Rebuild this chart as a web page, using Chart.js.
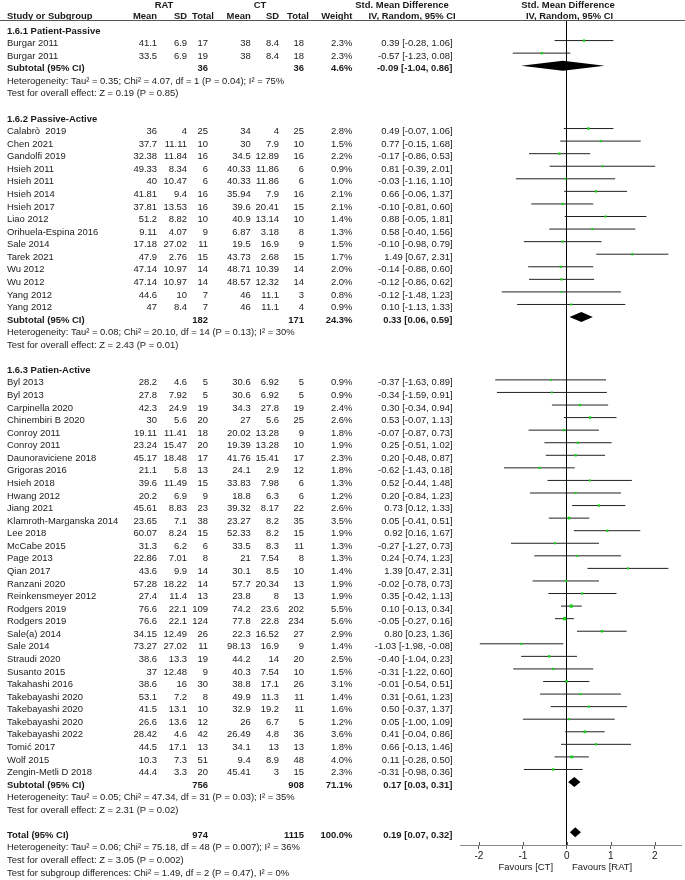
<!DOCTYPE html>
<html>
<head>
<meta charset="utf-8">
<script src="https://cdn.jsdelivr.net/npm/chart.js@4.4.1/dist/chart.umd.min.js"></script>
<style>
  html, body { margin: 0; padding: 0; background: #fff; }
  canvas { display: block; }
</style>
</head>
<body>
<canvas id="forest" width="685" height="880"></canvas>
<script>
// --- data ---
const groupNames = ['1.6.1 Patient-Passive', '1.6.2 Passive-Active', '1.6.3 Patien-Active'];
const groupSizes = [2, 15, 32];

const studyNames = [
  'Burgar 2011', 'Burgar 2011',
  'Calabrò  2019', 'Chen 2021', 'Gandolfi 2019', 'Hsieh 2011', 'Hsieh 2011', 'Hsieh 2014', 'Hsieh 2017',
  'Liao 2012', 'Orihuela-Espina 2016', 'Sale 2014', 'Tarek 2021', 'Wu 2012', 'Wu 2012', 'Yang 2012', 'Yang 2012',
  'Byl 2013', 'Byl 2013', 'Carpinella 2020', 'Chinembiri B 2020', 'Conroy 2011', 'Conroy 2011',
  'Daunoraviciene 2018', 'Grigoras 2016', 'Hsieh 2018', 'Hwang 2012', 'Jiang 2021', 'Klamroth-Marganska 2014',
  'Lee 2018', 'McCabe 2015', 'Page 2013', 'Qian 2017', 'Ranzani 2020', 'Reinkensmeyer 2012', 'Rodgers 2019',
  'Rodgers 2019', 'Sale(a) 2014', 'Sale 2014', 'Straudi 2020', 'Susanto 2015', 'Takahashi 2016',
  'Takebayashi 2020', 'Takebayashi 2020', 'Takebayashi 2020', 'Takebayashi 2022', 'Tomić 2017', 'Wolf 2015',
  'Zengin-Metli D 2018'
];
const ratMean = [41.1, 33.5,
  36, 37.7, 32.38, 49.33, 40, 41.81, 37.81, 51.2, 9.11, 17.18, 47.9, 47.14, 47.14, 44.6, 47,
  28.2, 27.8, 42.3, 30, 19.11, 23.24, 45.17, 21.1, 39.6, 20.2, 45.61, 23.65, 60.07, 31.3, 22.86, 43.6,
  57.28, 27.4, 76.6, 76.6, 34.15, 73.27, 38.6, 37, 38.6, 53.1, 41.5, 26.6, 28.42, 44.5, 10.3, 44.4];
const ratSd = [6.9, 6.9,
  4, 11.11, 11.84, 8.34, 10.47, 9.4, 13.53, 8.82, 4.07, 27.02, 2.76, 10.97, 10.97, 10, 8.4,
  4.6, 7.92, 24.9, 5.6, 11.41, 15.47, 18.48, 5.8, 11.49, 6.9, 8.83, 7.1, 8.24, 6.2, 7.01, 9.9,
  18.22, 11.4, 22.1, 22.1, 12.49, 27.02, 13.3, 12.48, 16, 7.2, 13.1, 13.6, 4.6, 17.1, 7.3, 3.3];
const ratN = [17, 19,
  25, 10, 16, 6, 6, 16, 16, 10, 9, 11, 15, 14, 14, 7, 7,
  5, 5, 19, 20, 18, 20, 17, 13, 15, 9, 23, 38, 15, 6, 8, 14, 14, 13, 109, 124,
  26, 11, 19, 9, 30, 8, 10, 12, 42, 13, 51, 20];
const ctMean = [38, 38,
  34, 30, 34.5, 40.33, 40.33, 35.94, 39.6, 40.9, 6.87, 19.5, 43.73, 48.71, 48.57, 46, 46,
  30.6, 30.6, 34.3, 27, 20.02, 19.39, 41.76, 24.1, 33.83, 18.8, 39.32, 23.27, 52.33, 33.5, 21, 30.1,
  57.7, 23.8, 74.2, 77.8, 22.3, 98.13, 44.2, 40.3, 38.8, 49.9, 32.9, 26, 26.49, 34.1, 9.4, 45.41];
const ctSd = [8.4, 8.4,
  4, 7.9, 12.89, 11.86, 11.86, 7.9, 20.41, 13.14, 3.18, 16.9, 2.68, 10.39, 12.32, 11.1, 11.1,
  6.92, 6.92, 27.8, 5.6, 13.28, 13.28, 15.41, 2.9, 7.98, 6.3, 8.17, 8.2, 8.2, 8.3, 7.54, 8.5,
  20.34, 8, 23.6, 22.8, 16.52, 16.9, 14, 7.54, 17.1, 11.3, 19.2, 6.7, 4.8, 13, 8.9, 3];
const ctN = [18, 18,
  25, 10, 16, 6, 6, 16, 15, 10, 8, 9, 15, 14, 14, 3, 4,
  5, 5, 19, 25, 9, 10, 17, 12, 6, 6, 22, 35, 15, 11, 8, 10, 13, 13, 202, 234,
  27, 9, 20, 10, 26, 11, 11, 5, 36, 13, 48, 15];
const weight = [2.3, 2.3,
  2.8, 1.5, 2.2, 0.9, 1.0, 2.1, 2.1, 1.4, 1.3, 1.5, 1.7, 2.0, 2.0, 0.8, 0.9,
  0.9, 0.9, 2.4, 2.6, 1.8, 1.9, 2.3, 1.8, 1.3, 1.2, 2.6, 3.5, 1.9, 1.3, 1.3, 1.4, 1.9, 1.9, 5.5, 5.6,
  2.9, 1.4, 2.5, 1.5, 3.1, 1.4, 1.6, 1.2, 3.6, 1.8, 4.0, 2.3];
const smd = [0.39, -0.57,
  0.49, 0.77, -0.17, 0.81, -0.03, 0.66, -0.10, 0.88, 0.58, -0.10, 1.49, -0.14, -0.12, -0.12, 0.10,
  -0.37, -0.34, 0.30, 0.53, -0.07, 0.25, 0.20, -0.62, 0.52, 0.20, 0.73, 0.05, 0.92, -0.27, 0.24, 1.39,
  -0.02, 0.35, 0.10, -0.05, 0.80, -1.03, -0.40, -0.31, -0.01, 0.31, 0.50, 0.05, 0.41, 0.66, 0.11, -0.31];
const ciLow = [-0.28, -1.23,
  -0.07, -0.15, -0.86, -0.39, -1.16, -0.06, -0.81, -0.05, -0.40, -0.98, 0.67, -0.88, -0.86, -1.48, -1.13,
  -1.63, -1.59, -0.34, -0.07, -0.87, -0.51, -0.48, -1.43, -0.44, -0.84, 0.12, -0.41, 0.16, -1.27, -0.74, 0.47,
  -0.78, -0.42, -0.13, -0.27, 0.23, -1.98, -1.04, -1.22, -0.54, -0.61, -0.37, -1.00, -0.04, -0.13, -0.28, -0.98];
const ciHigh = [1.06, 0.08,
  1.06, 1.68, 0.53, 2.01, 1.10, 1.37, 0.60, 1.81, 1.56, 0.79, 2.31, 0.60, 0.62, 1.23, 1.33,
  0.89, 0.91, 0.94, 1.13, 0.73, 1.02, 0.87, 0.18, 1.48, 1.23, 1.33, 0.51, 1.67, 0.73, 1.23, 2.31,
  0.73, 1.13, 0.34, 0.16, 1.36, -0.08, 0.23, 0.60, 0.51, 1.23, 1.37, 1.09, 0.86, 1.46, 0.50, 0.36];

const subRatN = [36, 182, 756];
const subCtN = [36, 171, 908];
const subWeight = [4.6, 24.3, 71.1];
const subSmd = [-0.09, 0.33, 0.17];
const subLow = [-1.04, 0.06, 0.03];
const subHigh = [0.86, 0.59, 0.31];
const subHet = [
  'Heterogeneity: Tau² = 0.35; Chi² = 4.07, df = 1 (P = 0.04); I² = 75%',
  'Heterogeneity: Tau² = 0.08; Chi² = 20.10, df = 14 (P = 0.13); I² = 30%',
  'Heterogeneity: Tau² = 0.05; Chi² = 47.34, df = 31 (P = 0.03); I² = 35%'
];
const subTest = [
  'Test for overall effect: Z = 0.19 (P = 0.85)',
  'Test for overall effect: Z = 2.43 (P = 0.01)',
  'Test for overall effect: Z = 2.31 (P = 0.02)'
];

const totalRatN = 974, totalCtN = 1115, totalWeight = 100.0;
const totalSmd = 0.19, totalLow = 0.07, totalHigh = 0.32;
const totalNotes = [
  'Heterogeneity: Tau² = 0.06; Chi² = 75.18, df = 48 (P = 0.007); I² = 36%',
  'Test for overall effect: Z = 3.05 (P = 0.002)',
  'Test for subgroup differences: Chi² = 1.49, df = 2 (P = 0.47), I² = 0%'
];
const xTicks = [-2, -1, 0, 1, 2];
const favours = ['Favours [CT]', 'Favours [RAT]'];

// --- row layout ---
const rows = [];
const studyRow = [];
const subRow = [];
let r = 0, s = 0;
groupSizes.forEach((n, g) => {
  rows.push({ row: r++, kind: 'group', g });
  for (let k = 0; k < n; k++, s++) {
    studyRow[s] = r;
    rows.push({ row: r++, kind: 'study', i: s });
  }
  subRow[g] = r;
  rows.push({ row: r++, kind: 'sub', g });
  rows.push({ row: r++, kind: 'note', text: subHet[g] });
  rows.push({ row: r++, kind: 'note', text: subTest[g] });
  r++; // blank line
});
const totalRow = r;
rows.push({ row: r++, kind: 'total' });
totalNotes.forEach(t => rows.push({ row: r++, kind: 'note', text: t }));

const FONT = '"Liberation Sans", Arial, Helvetica, sans-serif';
const SIZE = 9.45;
const col = { name: 7, ratMean: 157, ratSd: 187, ratN: 208, ctMean: 250.7, ctSd: 279, ctN: 304, weight: 352.5, ci: 452.5 };

const f2 = v => v.toFixed(2);
const ciText = (m, lo, hi) => f2(m) + ' [' + f2(lo) + ', ' + f2(hi) + ']';

const ciSegments = [];
smd.forEach((v, i) => {
  ciSegments.push({ x: ciLow[i], y: studyRow[i] });
  ciSegments.push({ x: ciHigh[i], y: studyRow[i] });
  ciSegments.push({ x: ciHigh[i], y: null });
});

const tablePlugin = {
  id: 'table',
  afterDraw(chart) {
    const { ctx, scales: { x, y } } = chart;
    const txt = (t, px, py, align, bold) => {
      ctx.font = (bold ? 'bold ' : '') + SIZE + 'px ' + FONT;
      ctx.textAlign = align;
      ctx.fillText(t, px, py);
    };
    ctx.save();
    ctx.fillStyle = '#1a1a1a';
    ctx.textBaseline = 'middle';

    // column headers
    txt('RAT', 164, 5.5, 'center', true);
    txt('CT', 260, 5.5, 'center', true);
    txt('Std. Mean Difference', 402, 5.5, 'center', true);
    txt('Std. Mean Difference', 568, 5.5, 'center', true);
    txt('Study or Subgroup', col.name, 16.5, 'left', true);
    txt('Mean', col.ratMean, 16.5, 'right', true);
    txt('SD', col.ratSd, 16.5, 'right', true);
    txt('Total', 203, 16.5, 'center', true);
    txt('Mean', col.ctMean, 16.5, 'right', true);
    txt('SD', col.ctSd, 16.5, 'right', true);
    txt('Total', 298, 16.5, 'center', true);
    txt('Weight', col.weight, 16.5, 'right', true);
    txt('IV, Random, 95% CI', 412, 16.5, 'center', true);
    txt('IV, Random, 95% CI', 569.5, 16.5, 'center', true);

    ctx.strokeStyle = '#555';
    ctx.lineWidth = 1;
    ctx.beginPath();
    ctx.moveTo(0, 20.5);
    ctx.lineTo(685, 20.5);
    ctx.stroke();

    rows.forEach(row => {
      const py = y.getPixelForValue(row.row) + 3;
      if (row.kind === 'group') {
        txt(groupNames[row.g], col.name, py, 'left', true);
      } else if (row.kind === 'study') {
        const i = row.i;
        txt(studyNames[i], col.name, py, 'left');
        txt(String(ratMean[i]), col.ratMean, py, 'right');
        txt(String(ratSd[i]), col.ratSd, py, 'right');
        txt(String(ratN[i]), col.ratN, py, 'right');
        txt(String(ctMean[i]), col.ctMean, py, 'right');
        txt(String(ctSd[i]), col.ctSd, py, 'right');
        txt(String(ctN[i]), col.ctN, py, 'right');
        txt(weight[i].toFixed(1) + '%', col.weight, py, 'right');
        txt(ciText(smd[i], ciLow[i], ciHigh[i]), col.ci, py, 'right');
      } else if (row.kind === 'sub') {
        const g = row.g;
        txt('Subtotal (95% CI)', col.name, py, 'left', true);
        txt(String(subRatN[g]), col.ratN, py, 'right', true);
        txt(String(subCtN[g]), col.ctN, py, 'right', true);
        txt(subWeight[g].toFixed(1) + '%', col.weight, py, 'right', true);
        txt(ciText(subSmd[g], subLow[g], subHigh[g]), col.ci, py, 'right', true);
      } else if (row.kind === 'total') {
        txt('Total (95% CI)', col.name, py, 'left', true);
        txt(String(totalRatN), col.ratN, py, 'right', true);
        txt(String(totalCtN), col.ctN, py, 'right', true);
        txt(totalWeight.toFixed(1) + '%', col.weight, py, 'right', true);
        txt(ciText(totalSmd, totalLow, totalHigh), col.ci, py, 'right', true);
      } else {
        txt(row.text, col.name, py, 'left');
      }
    });

    // pooled diamonds
    ctx.fillStyle = '#000';
    const diamond = (m, lo, hi, rowIdx) => {
      const cy = y.getPixelForValue(rowIdx);
      ctx.beginPath();
      ctx.moveTo(x.getPixelForValue(lo), cy);
      ctx.lineTo(x.getPixelForValue(m), cy - 5);
      ctx.lineTo(x.getPixelForValue(hi), cy);
      ctx.lineTo(x.getPixelForValue(m), cy + 5);
      ctx.closePath();
      ctx.fill();
    };
    subSmd.forEach((m, g) => diamond(m, subLow[g], subHigh[g], subRow[g]));
    diamond(totalSmd, totalLow, totalHigh, totalRow);

    // tick marks poke above the axis line too, then the favours labels
    const axisY = chart.chartArea.bottom;
    ctx.strokeStyle = '#555';
    xTicks.forEach(v => {
      const px = Math.round(x.getPixelForValue(v)) + 0.5;
      ctx.beginPath();
      ctx.moveTo(px, axisY - 3);
      ctx.lineTo(px, axisY);
      ctx.stroke();
    });
    ctx.fillStyle = '#1a1a1a';
    txt(favours[0], 553, 867, 'right');
    txt(favours[1], 572, 867, 'left');
    ctx.restore();
  }
};

new Chart(document.getElementById('forest'), {
  type: 'scatter',
  data: {
    datasets: [
      {
        data: smd.map((v, i) => ({ x: v, y: studyRow[i] })),
        pointStyle: 'rect',
        pointRadius: weight.map(w => 1.2 + w * 0.2),
        backgroundColor: '#17d117',
        borderWidth: 0
      },
      {
        data: ciSegments,
        showLine: true,
        spanGaps: false,
        borderColor: '#222',
        borderWidth: 1,
        pointRadius: 0
      }
    ]
  },
  options: {
    responsive: false,
    animation: false,
    events: [],
    layout: { padding: { left: 460, right: 0, top: 21, bottom: 0 } },
    plugins: { legend: { display: false }, tooltip: { enabled: false } },
    scales: {
      x: {
        type: 'linear',
        min: -2.431,
        max: 2.597,
        afterBuildTicks: sc => { sc.ticks = xTicks.map(v => ({ value: v })); },
        afterFit: sc => { sc.height = 35; },
        grid: {
          drawOnChartArea: true,
          color: c => (c.tick && c.tick.value === 0 ? '#000' : 'rgba(0,0,0,0)'),
          tickColor: '#555',
          tickLength: 4
        },
        border: { color: '#888', width: 1 },
        ticks: { color: '#1a1a1a', padding: 1, font: { family: FONT, size: 10 }, callback: v => String(v) }
      },
      y: { type: 'linear', min: -0.557, max: 65.01, reverse: true, display: false }
    }
  },
  plugins: [tablePlugin]
});
</script>
</body>
</html>
